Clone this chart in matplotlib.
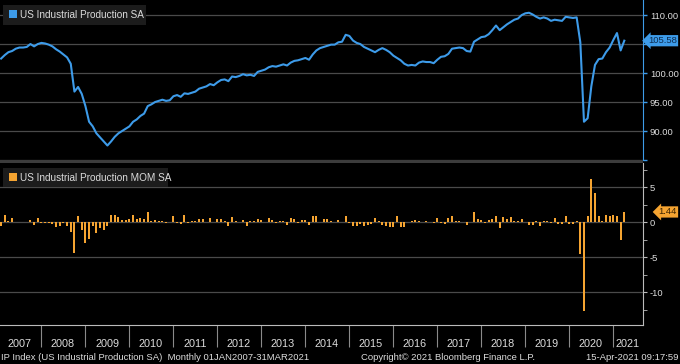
import numpy as np
import matplotlib
matplotlib.use("Agg")
import matplotlib.pyplot as plt
from matplotlib.patches import Rectangle
from matplotlib.transforms import blended_transform_factory

plt.rcParams['font.family'] = ['Liberation Sans', 'DejaVu Sans']

# monthly index, Jan 2007 .. Mar 2021
ip_2007 = [102.5, 103.1, 103.6, 103.8, 104.2, 104.4, 104.4, 104.5, 105.0, 104.6, 105.0, 105.2]
ip_2008 = [105.1, 104.9, 104.6, 104.1, 103.7, 103.2, 102.7, 101.6, 96.8, 97.6, 96.4, 94.3]
ip_2009 = [91.6, 90.8, 89.6, 88.9, 88.2, 87.5, 88.2, 89.0, 89.6, 90.0, 90.4, 90.8]
ip_2010 = [91.6, 92.0, 92.6, 93.0, 94.3, 94.6, 95.0, 95.2, 95.4, 95.2, 95.3, 96.0]
ip_2011 = [96.2, 95.9, 96.5, 96.4, 96.6, 96.8, 97.3, 97.5, 97.7, 98.1, 97.9, 98.4]
ip_2012 = [98.8, 98.9, 98.6, 99.4, 99.3, 99.5, 99.8, 99.6, 99.7, 99.5, 100.2, 100.4]
ip_2013 = [100.6, 101.0, 101.2, 101.1, 101.3, 101.5, 101.3, 101.8, 102.1, 102.2, 102.4, 102.6]
ip_2014 = [102.3, 103.2, 103.9, 104.3, 104.5, 104.7, 104.9, 104.9, 105.3, 105.4, 106.6, 106.4]
ip_2015 = [105.6, 105.2, 105.0, 104.5, 104.2, 103.9, 103.6, 104.0, 104.3, 104.0, 103.6, 103.0]
ip_2016 = [102.6, 102.2, 101.6, 101.3, 101.4, 101.3, 101.8, 102.0, 101.9, 101.9, 101.7, 102.3]
ip_2017 = [102.8, 102.9, 103.3, 104.2, 104.3, 104.4, 104.3, 103.8, 103.7, 105.4, 105.8, 106.2]
ip_2018 = [106.3, 106.7, 107.4, 108.2, 107.4, 107.9, 108.4, 108.8, 109.2, 109.4, 110.0, 110.3]
ip_2019 = [110.4, 110.1, 109.7, 109.4, 109.6, 109.4, 109.0, 109.2, 109.1, 109.0, 109.7, 109.6]
ip_2020 = [109.5, 109.6, 105.3, 91.6, 92.2, 97.7, 101.4, 102.4, 102.5, 103.6, 104.4, 105.7]
ip_2021 = [106.9, 103.9, 105.58]

# month-over-month %, same months
mom_a = [-0.5, 1.0, 0.2, 0.6, 0.0, 0.05, 0.0, 0.0, 0.3, -0.4, 0.6, -0.1,
         -0.2, -0.2, -0.3, -0.7, -0.5, -0.2, -0.6, -1.4, -4.4, 0.9, -1.2, -3.0,
         -2.4, -0.6, -1.5, -0.9, -1.1, -0.5, 1.0, 1.0, 0.7, 0.3, 0.3, 0.4,
         1.0, 0.5, 0.6, 0.4, 1.4, 0.2, 0.3, 0.2, 0.1, -0.2, 0.0, 0.8,
         -0.1, -0.3, 1.0, -0.2, 0.2, 0.2, 0.4, 0.4, 0.05, 0.6, 0.0]
mom_b = [0.5, 0.5, 0.15, -0.5, 0.7, 0.2, 0.0, 0.25, -0.5, 0.15, 0.2, 0.5,
         0.35, 0.0, 0.6, 0.35, -0.15, 0.15, 0.2, -0.4, 0.6, 0.5, -0.1, 0.3,
         0.25, -0.4, 0.8, 0.9, 0.0, 0.4, 0.4, 0.15, 0.0, 0.3, 0.0, 0.8,
         -0.1, -0.5, -0.5, -0.35, -0.6, -0.4, -0.25, 0.6, 0.1, -0.4, -0.5, -0.7,
         -0.7, 0.8, -0.7, -0.7, 0.0, 0.15, 0.35, 0.15, 0.0, 0.1, 0.0]
mom_c = [-0.2, 0.6, -0.1, -0.3, 0.6, 0.8, 0.15, 0.1, 0.0, -0.4,
         0.0, 1.4, 0.5, 0.35, -0.15, 0.3, 0.5, 0.8, -0.8, 0.7,
         0.45, 0.7, 0.15, 0.2, 0.5, 0.0, -0.4, -0.4, 0.1, -0.6,
         0.2, 0.1, -0.15, 0.6, -0.3, -0.35, 0.8, -0.25, -0.3, 0.15,
         -4.5, -12.7, 0.8, 6.2, 4.1, 0.8, 0.1, 1.0, 0.9, 1.0,
         0.9, -2.6, 1.44]

years = [str(y) for y in range(2007, 2022)]

ip = np.array(ip_2007 + ip_2008 + ip_2009 + ip_2010 + ip_2011 + ip_2012 + ip_2013 +
              ip_2014 + ip_2015 + ip_2016 + ip_2017 + ip_2018 + ip_2019 + ip_2020 + ip_2021)
mom = np.array(mom_a + mom_b + mom_c)
m = np.arange(len(ip))

W, H = 680, 364
BLUE = '#3d9be9'
ORANGE = '#f5a431'
GRID = '#4a4a4a'
TXT = '#dcdcdc'


def fx(x):
    return x / W


def fy(y):
    return 1 - y / H


fig = plt.figure(figsize=(6.8, 3.64), dpi=100, facecolor='black')

xl = (-0.3, 175.1)

# top panel
ax1 = fig.add_axes([0, fy(160), fx(643), fy(0) - fy(160)], facecolor='black')
ax1.plot(m, ip, color=BLUE, lw=1.5)
ax1.set_xlim(xl)
ax1.set_ylim(85, 112.6)
ax1.set_yticks([85, 90, 95, 100, 105, 110])
ax1.set_yticklabels(['', '90.00', '95.00', '100.00', '', '110.00'])
ax1.yaxis.tick_right()
ax1.tick_params(axis='y', colors=BLUE, labelcolor=TXT, length=3, width=1, labelsize=6.8, pad=2)
ax1.set_xticks([])
ax1.grid(axis='y', color=GRID, lw=0.9)
for s in ['top', 'left', 'bottom']:
    ax1.spines[s].set_visible(False)
ax1.spines['right'].set_color(BLUE)
tr1 = blended_transform_factory(fig.transFigure, ax1.transData)
ax1.text(fx(677), ip[-1], f'{ip[-1]:.2f}', transform=tr1,
         color='#0c2c50', fontsize=6.8, va='center', ha='right',
         bbox=dict(boxstyle='larrow,pad=0.12', fc=BLUE, ec='none'))

# bottom panel
ax2 = fig.add_axes([0, fy(325), fx(643), fy(163) - fy(325)], facecolor='black')
ax2.bar(m, mom, width=0.55, color=ORANGE)
ax2.set_xlim(xl)
ax2.set_ylim(-14.7, 8.43)
ax2.set_yticks([-10, -5, 0, 5])
ax2.set_yticklabels(['-10', '-5', '0', '5'])
ax2.set_yticks([-12.5, -7.5, -2.5, 2.5, 7.5], minor=True)
ax2.yaxis.tick_right()
ax2.tick_params(axis='y', which='both', colors='#bbbbbb', labelcolor=TXT, length=3, labelsize=6.8, pad=2)
ax2.grid(axis='y', which='major', color=GRID, lw=0.9)
ax2.set_axisbelow(True)
for s in ['top', 'left']:
    ax2.spines[s].set_visible(False)
ax2.spines['right'].set_color('#bbbbbb')
ax2.spines['bottom'].set_color('#bbbbbb')
tr2 = blended_transform_factory(fig.transFigure, ax2.transData)
ax2.text(fx(677), mom[-1], f'{mom[-1]:.2f}', transform=tr2,
         color='#3a2200', fontsize=6.8, va='center', ha='right',
         bbox=dict(boxstyle='larrow,pad=0.12', fc=ORANGE, ec='none'))

# year separators and labels
seps = [12 * k - 1.1 for k in range(1, len(years))]
centers = [12 * k + 4.9 for k in range(len(years) - 1)] + [171]
ax2.set_xticks(seps)
ax2.set_xticklabels([])
ax2.set_xticks(centers, minor=True)
ax2.set_xticklabels(years, minor=True)
ax2.tick_params(axis='x', which='major', length=16, color='#8a8a8a', width=0.8)
ax2.tick_params(axis='x', which='minor', length=0, labelsize=7.8, labelcolor=TXT, pad=10)

# panel divider
fig.patches.append(Rectangle((0, fy(163)), fx(643), fy(159.5) - fy(163),
                             transform=fig.transFigure, fc='#3c3c3c', ec='none'))

# legend boxes
for (x0, y0, x1, y1, col, lab) in [(3, 5, 146, 25, BLUE, 'US Industrial Production SA'),
                                   (3, 168, 168, 187, ORANGE, 'US Industrial Production MOM SA')]:
    fig.patches.append(Rectangle((fx(x0), fy(y1)), fx(x1 - x0), fy(y0) - fy(y1),
                                 transform=fig.transFigure, fc='#1c1c1c', ec='none'))
    fig.patches.append(Rectangle((fx(9), fy(y0 + 13)), fx(8), fy(y0 + 5) - fy(y0 + 13),
                                 transform=fig.transFigure, fc=col, ec='none'))
    fig.text(fx(20), fy((y0 + y1) / 2), lab, color=TXT, fontsize=7.2, va='center', ha='left')

# footer
fig.text(fx(1), fy(357), 'IP Index (US Industrial Production SA)  Monthly 01JAN2007-31MAR2021',
         color=TXT, fontsize=6.8, va='center', ha='left')
fig.text(fx(361), fy(357), 'Copyright\u00a9 2021 Bloomberg Finance L.P.',
         color=TXT, fontsize=6.8, va='center', ha='left')
fig.text(fx(678), fy(357), '15-Apr-2021 09:17:59',
         color=TXT, fontsize=6.8, va='center', ha='right')

fig.savefig('out.png', dpi=100, facecolor='black')
